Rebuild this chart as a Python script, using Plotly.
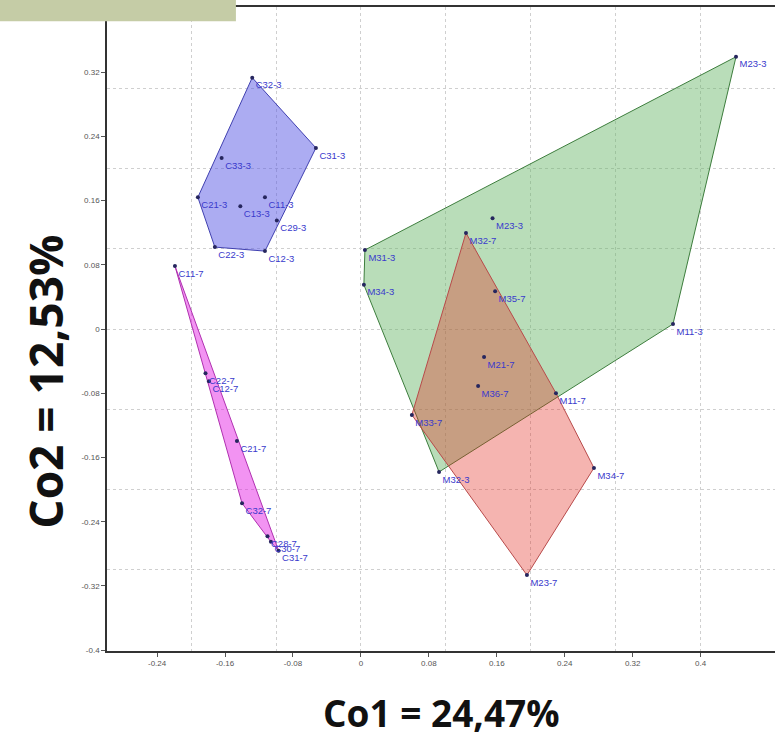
import numpy as np
import plotly.graph_objects as go

# ---- data (Co1, Co2 scores) ----
c3_names = ["C32-3", "C31-3", "C33-3", "C21-3", "C11-3", "C13-3", "C29-3", "C22-3", "C12-3"]
c3_x = [-0.128, -0.053, -0.164, -0.192, -0.113, -0.142, -0.099, -0.172, -0.113]
c3_y = [0.313, 0.2255, 0.213, 0.164, 0.164, 0.153, 0.135, 0.102, 0.097]

c7_names = ["C11-7", "C22-7", "C12-7", "C21-7", "C32-7", "C28-7", "C30-7", "C31-7"]
c7_x = [-0.219, -0.183, -0.179, -0.146, -0.140, -0.110, -0.106, -0.097]
c7_y = [0.0785, -0.055, -0.065, -0.1396, -0.217, -0.258, -0.265, -0.276]

m3_names = ["M23-3", "M23-3", "M31-3", "M34-3", "M11-3", "M32-3"]
m3_x = [0.4417, 0.155, 0.0047, 0.0035, 0.3675, 0.092]
m3_y = [0.339, 0.138, 0.0984, 0.055, 0.0062, -0.178]

m7_names = ["M32-7", "M35-7", "M21-7", "M36-7", "M11-7", "M33-7", "M34-7", "M23-7"]
m7_x = [0.1237, 0.158, 0.145, 0.138, 0.2297, 0.060, 0.2744, 0.1955]
m7_y = [0.1196, 0.047, -0.035, -0.071, -0.080, -0.107, -0.173, -0.3065]

x_ticks = [-0.24, -0.16, -0.08, 0, 0.08, 0.16, 0.24, 0.32, 0.4]
x_ticktext = ["-0.24", "-0.16", "-0.08", "0", "0.08", "0.16", "0.24", "0.32", "0.4"]
y_ticks = [-0.4, -0.32, -0.24, -0.16, -0.08, 0, 0.08, 0.16, 0.24, 0.32]
y_ticktext = ["-0.4", "-0.32", "-0.24", "-0.16", "-0.08", "0", "0.08", "0.16", "0.24", "0.32"]
x_grid = [-0.3, -0.2, -0.1, 0, 0.1, 0.2, 0.3, 0.4]
y_grid = [-0.3, -0.2, -0.1, 0, 0.1, 0.2, 0.3]

x_title = "Co1 = 24,47%"
y_title = "Co2 = 12,53%"


def hull(xs, ys):
    pts = sorted(zip(xs, ys))

    def cross(o, a, b):
        return (a[0] - o[0]) * (b[1] - o[1]) - (a[1] - o[1]) * (b[0] - o[0])

    lower, upper = [], []
    for p in pts:
        while len(lower) >= 2 and cross(lower[-2], lower[-1], p) <= 0:
            lower.pop()
        lower.append(p)
    for p in reversed(pts):
        while len(upper) >= 2 and cross(upper[-2], upper[-1], p) <= 0:
            upper.pop()
        upper.append(p)
    h = lower[:-1] + upper[:-1]
    h.append(h[0])
    return [p[0] for p in h], [p[1] for p in h]


groups = [
    (m3_names, m3_x, m3_y, "rgba(100,180,100,0.45)", "#3d7d3d"),
    (m7_names, m7_x, m7_y, "rgba(225,40,30,0.35)", "#b84a4a"),
    (c3_names, c3_x, c3_y, "rgba(90,90,230,0.5)", "#4040b0"),
    (c7_names, c7_x, c7_y, "rgba(230,40,230,0.5)", "#b030b0"),
]

fig = go.Figure()
for names, xs, ys, fillc, linec in groups:
    hx, hy = hull(xs, ys)
    fig.add_trace(go.Scatter(x=hx, y=hy, mode="lines", fill="toself",
                             fillcolor=fillc, line=dict(color=linec, width=1),
                             hoverinfo="skip", showlegend=False))
for names, xs, ys, fillc, linec in groups:
    fig.add_trace(go.Scatter(x=xs, y=ys, mode="markers+text", text=names,
                             textposition="bottom right",
                             textfont=dict(family="Liberation Sans, Arial", size=9.5, color="#3a3acc"),
                             marker=dict(size=4, color="#26265e"),
                             cliponaxis=False, showlegend=False))

axis_common = dict(showline=True, linecolor="#333333", linewidth=1.5,
                   ticks="outside", ticklen=4, tickcolor="#555555",
                   tickfont=dict(family="Liberation Sans, Arial", size=8, color="#555555"),
                   showgrid=False, zeroline=False)

fig.update_xaxes(range=[-0.299, 0.4876], tickmode="array", tickvals=x_ticks, ticktext=x_ticktext,
                 mirror=True,
                 minor=dict(tickmode="array", tickvals=x_grid, showgrid=True,
                            gridcolor="#cfcfcf", griddash="dot", gridwidth=1, ticklen=0),
                 **axis_common)
fig.update_yaxes(range=[-0.401, 0.401], tickmode="array", tickvals=y_ticks, ticktext=y_ticktext,
                 mirror=False,
                 minor=dict(tickmode="array", tickvals=y_grid, showgrid=True,
                            gridcolor="#cfcfcf", griddash="dot", gridwidth=1, ticklen=0),
                 **axis_common)

fig.add_annotation(text="<b>" + x_title + "</b>", xref="paper", yref="paper",
                   x=0.5, y=-0.095, xanchor="center", yanchor="middle", showarrow=False,
                   height=40, valign="middle",
                   font=dict(family="Open Sans", size=37, color="#111111"))
fig.add_annotation(text="<b>" + y_title + "</b>", xref="paper", yref="paper",
                   x=-0.093, y=0.418, xanchor="center", yanchor="middle", showarrow=False,
                   textangle=-90,
                   font=dict(family="Open Sans", size=46, color="#111111"))

fig.add_shape(type="rect", xref="paper", yref="paper", x0=-0.165, x1=0.193, y0=0.978, y1=1.02,
              fillcolor="#c5cca6", line=dict(width=0), layer="above")

fig.update_layout(width=775, height=737, margin=dict(l=107, r=0, t=7, b=86),
                  plot_bgcolor="white", paper_bgcolor="white")

fig.write_html("out.html")
